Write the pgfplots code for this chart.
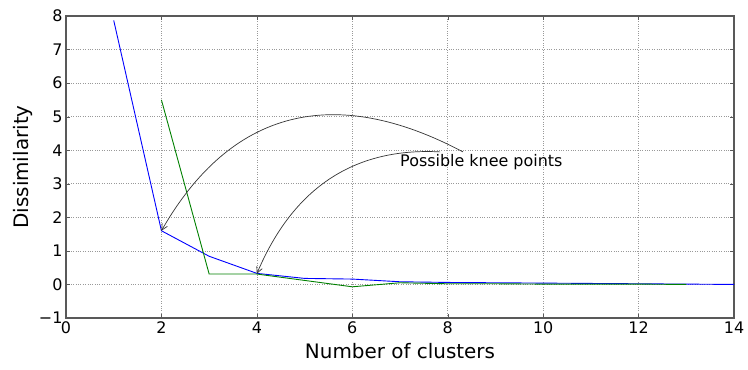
\documentclass[border=0pt]{standalone}
\usepackage{fontspec}
\setmainfont{DejaVu Sans}
\usepackage{pgfplots}
\pgfplotsset{compat=1.18}
\usetikzlibrary{arrows.meta}

\begin{document}
\begin{tikzpicture}
\useasboundingbox (-66bp,-52bp) rectangle (682bp,318bp);
\begin{axis}[
    scale only axis,
    width=668bp, height=302bp,
    xmin=0, xmax=14, ymin=-1, ymax=8,
    xtick={0,2,...,14},
    xticklabels={0,2,4,6,8,10,12,14},
    ytick={-1,0,...,8},
    yticklabels={−1,0,1,2,3,4,5,6,7,8},
    ticklabel style={font=\fontsize{16}{19}\selectfont},
    xlabel={Number of clusters},
    ylabel={Dissimilarity},
    label style={font=\fontsize{20}{24}\selectfont},
    xlabel style={yshift=-3bp},
    ylabel style={yshift=-1bp},
    grid=major,
    grid style={dotted, gray!80, line width=0.6bp},
    axis line style={black!65, line width=1.2bp},
    tick align=inside,
    major tick length=4bp,
    tick style={black!65},
    clip=false,
]
% blue series
\addplot[blue, line width=0.9bp] coordinates {
    (1,7.87) (2,1.6) (3,0.84) (4,0.33) (5,0.18) (6,0.16) (7,0.08)
    (8,0.06) (9,0.05) (10,0.04) (11,0.03) (12,0.02) (13,0.01) (14,0.0)
};
% green series
\addplot[green!50!black, line width=0.9bp] coordinates {
    (2,5.5) (3,0.31) (4,0.31) (5,0.12) (6,-0.07) (7,0.05)
    (8,0.02) (9,0.02) (10,0.01) (11,0.01) (12,0.01) (13,0.0)
};
% annotation
\node[anchor=west, font=\fontsize{16}{19}\selectfont, inner sep=0pt]
    at (axis cs:7.0,3.66) {Possible knee points};
\draw[black!80, line width=0.7bp, -{Straight Barb[length=6bp,width=6bp]}]
    (axis cs:8.32,3.95) .. controls (axis cs:5.6,6.0) and (axis cs:3.45,5.2) .. (axis cs:2,1.6);
\draw[black!80, line width=0.7bp, -{Straight Barb[length=6bp,width=6bp]}]
    (axis cs:7.84,3.95) .. controls (axis cs:6.04,4.09) and (axis cs:4.76,2.88) .. (axis cs:4,0.32);
\end{axis}
\end{tikzpicture}
\end{document}
